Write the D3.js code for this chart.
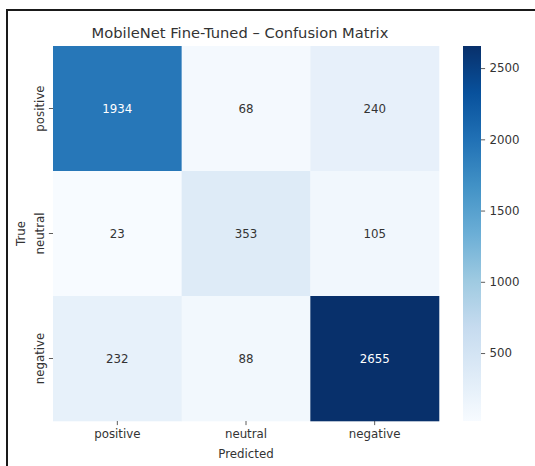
<!DOCTYPE html>
<html>
<head>
<meta charset="utf-8">
<script src="https://cdn.jsdelivr.net/npm/d3@7"></script>
<style>
  html, body { margin: 0; padding: 0; background: #fff; }
  svg { display: block; font-family: "DejaVu Sans", sans-serif; }
</style>
</head>
<body>
<svg id="chart" width="535" height="466"></svg>
<script>
// Class labels (rows = true class, columns = predicted class)
const trueLabels = ["positive", "neutral", "negative"];
const predLabels = ["positive", "neutral", "negative"];

// Confusion counts, one array per true class
const rowPositive = [1934, 68, 240];
const rowNeutral = [23, 353, 105];
const rowNegative = [232, 88, 2655];
const matrix = [rowPositive, rowNeutral, rowNegative];

// Colour bar ticks
const colorbarTicks = [500, 1000, 1500, 2000, 2500];

// Sequential "Blues" palette stops
const bluesStops = ["#f7fbff", "#deebf7", "#c6dbef", "#9ecae1", "#6baed6",
                    "#4292c6", "#2171b5", "#08519c", "#08306b"];

const svg = d3.select("#chart");

// outer frame
svg.append("rect")
  .attr("x", 7).attr("y", 10)
  .attr("width", 600).attr("height", 600)
  .attr("fill", "none")
  .attr("stroke", "#1a1a1a")
  .attr("stroke-width", 2);

const hm = { left: 53, right: 439, top: 46, bottom: 421 };
const tickSize = 11.8;

const cells = [];
matrix.forEach((row, i) => row.forEach((v, j) => cells.push({ i, j, v })));
const allVals = cells.map(d => d.v);
const vmin = d3.min(allVals), vmax = d3.max(allVals);

const color = d3.scaleLinear()
  .domain(bluesStops.map((_, k) => vmin + (vmax - vmin) * k / (bluesStops.length - 1)))
  .range(bluesStops)
  .interpolate(d3.interpolateRgb)
  .clamp(true);

const x = d3.scaleBand().domain(predLabels).range([hm.left, hm.right]);
const y = d3.scaleBand().domain(trueLabels).range([hm.top, hm.bottom]);

// heatmap cells
svg.append("g").selectAll("rect").data(cells).join("rect")
  .attr("x", d => x(predLabels[d.j]))
  .attr("y", d => y(trueLabels[d.i]))
  .attr("width", x.bandwidth() + 0.3)
  .attr("height", y.bandwidth() + 0.3)
  .attr("fill", d => color(d.v));

// annotations: light text on dark cells
function lum(c) {
  const r = d3.rgb(c);
  const f = u => { u /= 255; return u <= 0.03928 ? u / 12.92 : Math.pow((u + 0.055) / 1.055, 2.4); };
  return 0.2126 * f(r.r) + 0.7152 * f(r.g) + 0.0722 * f(r.b);
}
svg.append("g").selectAll("text").data(cells).join("text")
  .attr("x", d => x(predLabels[d.j]) + x.bandwidth() / 2)
  .attr("y", d => y(trueLabels[d.i]) + y.bandwidth() / 2)
  .attr("dy", "0.35em")
  .attr("text-anchor", "middle")
  .attr("font-size", tickSize)
  .attr("fill", d => lum(color(d.v)) > 0.408 ? "#333333" : "#ffffff")
  .text(d => d.v);

// x axis
const xAxis = svg.append("g")
  .attr("transform", `translate(0,${hm.bottom})`)
  .call(d3.axisBottom(x).tickSize(4.1).tickPadding(4.5));
xAxis.select(".domain").remove();
xAxis.selectAll("line").attr("stroke", "#333").attr("stroke-width", 0.8);
xAxis.selectAll("text").attr("font-size", tickSize).attr("fill", "#333")
  .attr("font-family", "DejaVu Sans, sans-serif");

// y axis with rotated labels
const yAxis = svg.append("g")
  .attr("transform", `translate(${hm.left},0)`)
  .call(d3.axisLeft(y).tickSize(4.1).tickPadding(4.5));
yAxis.select(".domain").remove();
yAxis.selectAll("line").attr("stroke", "#333").attr("stroke-width", 0.8);
yAxis.selectAll("text")
  .attr("font-size", tickSize).attr("fill", "#333")
  .attr("font-family", "DejaVu Sans, sans-serif")
  .attr("x", null).attr("dy", null)
  .attr("text-anchor", "middle")
  .attr("transform", "translate(-9.5,0) rotate(-90)");

// axis titles
svg.append("text")
  .attr("x", (hm.left + hm.right) / 2).attr("y", 458)
  .attr("text-anchor", "middle").attr("font-size", tickSize).attr("fill", "#333")
  .text("Predicted");
svg.append("text")
  .attr("transform", `translate(25,${(hm.top + hm.bottom) / 2}) rotate(-90)`)
  .attr("text-anchor", "middle").attr("font-size", tickSize).attr("fill", "#333")
  .text("True");

// title
svg.append("text")
  .attr("x", (hm.left + hm.right) / 2 - 6).attr("y", 38)
  .attr("text-anchor", "middle").attr("font-size", 14.7).attr("fill", "#333")
  .text("MobileNet Fine-Tuned – Confusion Matrix");

// colour bar
const cb = { left: 463, right: 481 };
const cbScale = d3.scaleLinear().domain([vmin, vmax]).range([hm.bottom, hm.top]);
const grad = svg.append("defs").append("linearGradient")
  .attr("id", "cbgrad").attr("x1", 0).attr("y1", 1).attr("x2", 0).attr("y2", 0);
bluesStops.forEach((c, k) => grad.append("stop")
  .attr("offset", k / (bluesStops.length - 1)).attr("stop-color", c));
svg.append("rect")
  .attr("x", cb.left).attr("y", hm.top)
  .attr("width", cb.right - cb.left).attr("height", hm.bottom - hm.top)
  .attr("fill", "url(#cbgrad)");
const cbAxis = svg.append("g")
  .attr("transform", `translate(${cb.right},0)`)
  .call(d3.axisRight(cbScale).tickValues(colorbarTicks).tickFormat(d3.format("d"))
    .tickSize(4.1).tickPadding(4.5));
cbAxis.select(".domain").remove();
cbAxis.selectAll("line").attr("stroke", "#333").attr("stroke-width", 0.8);
cbAxis.selectAll("text").attr("font-size", tickSize).attr("fill", "#333")
  .attr("font-family", "DejaVu Sans, sans-serif");
</script>
</body>
</html>
